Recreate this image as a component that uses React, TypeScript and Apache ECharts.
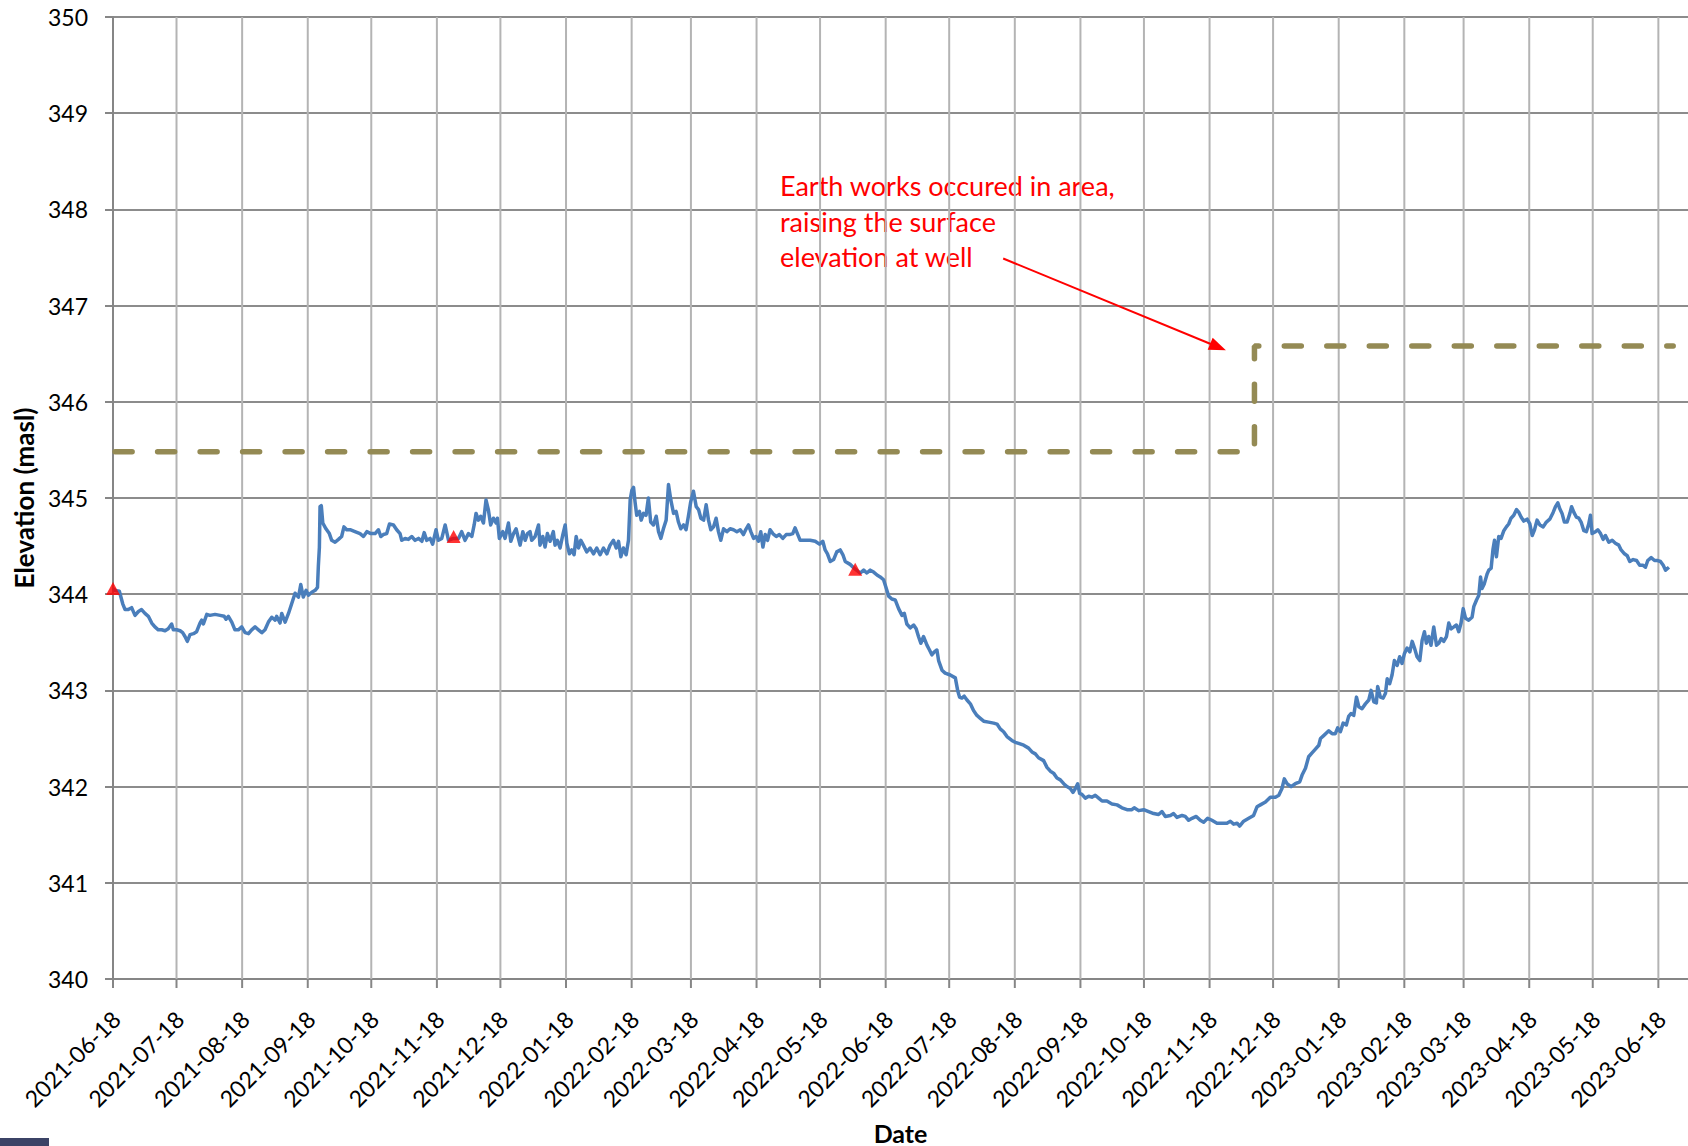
import React, { useEffect, useRef } from "react";
import * as echarts from "echarts";

// ---- data (days since 2021-06-18, groundwater elevation in masl) ----
const START_DATE = "2021-06-18";
const X_MAX_DAYS = 744;

const days: number[] = [
  0, 1, 3, 4.6, 5.7, 7.2, 8.8, 10.4, 12, 13.5, 15.1, 16.7, 18.3, 19.8, 21.4, 23, 24.6, 26.1, 27.7, 28.5,
  30.1, 31.7, 32.9, 34, 35.1, 36.4, 38, 39.5, 41.1, 41.9, 42.7, 44.3, 45.8, 48.2, 50.6, 52.5, 53.4, 54.5, 56.1, 57.6,
  59.2, 60.8, 62.4, 64, 65.5, 67.1, 68.7, 70.3, 71.8, 73.4, 75, 76.6, 77.3, 78.9, 79.7, 81.3, 82.9, 84.4, 86, 87.6,
  88.7, 89.9, 91.2, 92.3, 93.9, 95.5, 96.6, 97.0, 97.5, 97.8, 98.4, 99.1, 100.6, 102.2, 103.3, 104.9, 106.5, 108.0, 109.1, 110.4,
  112.0, 114.3, 116.7, 118.3, 119.9, 121.8, 123.8, 125.4, 126.5, 127.7, 129.3, 130.6, 132.5, 134.0, 135.6, 136.4, 138.0, 139.5, 141.1, 142.7,
  144.3, 145.9, 147.0, 148.2, 149.8, 151.0, 152.6, 153.7, 155.3, 156.9, 158.5, 160.8,
  163.2, 164.7, 166.3, 167.9, 169.5, 170.6, 171.5, 172.6, 173.7, 175.0, 176.2, 177.3, 178.4, 179.7, 181, 181.6, 182.5, 184.1, 185.2, 186.8,
  187.9, 189.2, 190.4, 191.5, 192.3, 193.6, 194.7, 195.8, 197.0, 197.8, 199.4, 201.0, 201.7, 203.0, 204.1, 205.2, 206.5, 208.0, 208.8, 209.9,
  211.2, 212.5, 213.6, 214.4, 215.6, 216.7, 217.8, 218.8, 219.9, 221, 222.2, 223.8, 225.4, 227, 228.5, 230.1, 231.7, 233.3, 234.8, 236.4,
  237.7, 238.8, 239.9, 241.1, 242.4, 243.5, 244.3, 245.1, 245.9, 246.6, 247.4, 248.7, 249.5, 250.6, 251.8, 252.9, 254.0, 255.3, 256.6, 257.7,
  258.8, 260.0, 261.3, 262.4, 263.5, 264.8, 266.0, 267.1, 268.2, 269.5, 270.7, 271.8, 272.9, 274.2, 275.5, 276.6, 277.7, 279.0, 280.2, 281.3,
  282.4, 283.7, 284.9, 286.0, 287.1, 288.4, 290.0, 291.5, 293.1, 294.7, 296.3, 297.8, 299.1, 300.2, 301.3, 302.6, 303.8, 304.9, 306.0, 307.0,
  308.1, 309.2, 310.4, 311.7, 313.3, 314.8, 316.4, 318.0, 319.6, 321.1, 322.2, 323.3, 324.6, 327.0, 329.3, 331.7, 333.7, 335.3, 336.4, 337.5,
  338.8, 340.4, 341.9, 343.5,
  344.8, 345.9, 348.2, 350.6, 353.0, 354.6, 356.1, 357.7, 359.3, 360.9, 362.4, 364.0, 365.3, 366.4, 367.9, 369.5, 371.1, 372.7, 373.8, 375.0,
  376.6, 378.2, 379.4, 380.5, 381.6, 382.9, 384.5, 385.7, 386.8, 388.0, 389.2, 390.0, 391.6, 393.1, 395.5, 397.9, 399.0, 399.9, 401.0, 402.1,
  403.4, 405.0, 406.5, 408.1, 409.7, 411.3, 413.6, 416.0, 417.6, 419.1, 420.7, 422.3, 424.6, 426.2, 427.8, 430.2, 432.5, 434.1, 435.7, 437.2,
  439.6, 441.2, 442.8, 444.3, 445.9, 447.5, 449.1, 450.6, 452.2, 453.5, 454.6, 455.7, 456.6, 457.7, 459.3, 460.9, 462.4, 464.0, 465.6, 467.2,
  469.5, 471.9, 474.3, 476.6, 479.0, 481.3, 482.4, 484.5, 486.9, 489.2, 491.6, 493.9, 495.5, 497.1, 499.5, 501.0, 502.6, 505.0, 506.5, 508.1,
  509.7, 511.7, 513.6, 515.2, 517.1, 519.1, 521.5, 523.9, 526.2, 527.8, 529.4, 531.0, 532.2, 534.1, 536.5, 538.8, 540.4,
  542.0, 544.4, 546.7, 549.1, 550.7, 552.2, 553.3, 554.6, 556.5, 558.5, 560.6, 561.7, 563.3, 564.8, 566.4, 568.0, 569.6, 570.4, 571.9, 574.3,
  575.9, 577.4, 578.5, 579.8, 581.1, 582.6, 583.7, 584.8, 586.1, 587.4, 588.5, 590.0, 591.6, 593.2, 594.3, 595.6, 596.8, 597.4, 598.7, 600.0,
  601.1, 601.9, 603.1, 604.2, 605.3, 606.6, 607.8, 608.9, 610.0, 611.3, 612.6, 613.7, 614.8, 616.0, 617.3, 618.4, 619.5, 620.4, 621.5, 622.6,
  623.9, 625.2, 626.3, 627.4, 628.6, 629.9, 631.0, 632.1, 633.4, 634.6, 635.7, 636.8, 637.8, 638.9, 640.4, 642.0, 642.8, 644.1, 645.2, 646.0,
  646.7, 647.8, 649.1, 649.9, 651.0, 651.9, 652.6, 653.5, 654.6, 655.7, 657.0, 658.2, 659.3, 660.4, 661.7, 663.0, 664.1, 665.2, 666.4, 668.0,
  669.3, 670.4, 671.5, 672.7, 674.0, 675.6, 677.1, 678.7, 680.3, 681.4, 682.5, 683.4, 684.5, 685.6, 686.9, 688.2, 689.0, 690.1, 691.3, 692.4,
  693.5, 694.8, 696.0, 697.1, 697.9, 698.7, 700.3, 701.4, 702.7, 703.9, 705.0, 706.6, 708.2, 709.7, 711.3, 712.4, 714.0, 715.3, 716.5, 718.1,
  719.7, 721.2, 722.8, 723.9, 725.0, 726.6, 728.2, 729.7, 731.0, 732.3, 733.4, 735.0,
];

const levels: number[] = [
  344.06, 344.04, 344.03, 343.90, 343.84, 343.84, 343.86, 343.78, 343.82, 343.84, 343.80, 343.77, 343.70, 343.66, 343.63, 343.63, 343.62, 343.64, 343.69, 343.63,
  343.63, 343.62, 343.60, 343.56, 343.51, 343.58, 343.59, 343.61, 343.70, 343.73, 343.69, 343.79, 343.78, 343.79, 343.78, 343.77, 343.74, 343.77, 343.71, 343.63,
  343.63, 343.66, 343.60, 343.59, 343.63, 343.66, 343.63, 343.60, 343.63, 343.71, 343.76, 343.73, 343.77, 343.70, 343.80, 343.71, 343.80, 343.90, 344.01, 343.97,
  344.10, 343.97, 344.04, 343.99, 344.02, 344.04, 344.07, 344.29, 344.49, 344.91, 344.92, 344.74, 344.68, 344.63, 344.56, 344.54, 344.57, 344.60, 344.70, 344.67,
  344.67, 344.65, 344.63, 344.60, 344.65, 344.63, 344.63, 344.67, 344.60, 344.62, 344.63, 344.73, 344.72, 344.67, 344.63, 344.56, 344.58, 344.57, 344.60, 344.56,
  344.58, 344.55, 344.64, 344.56, 344.58, 344.52, 344.67, 344.56, 344.58, 344.72, 344.56, 344.58,
  344.58, 344.65, 344.56, 344.63, 344.60, 344.72, 344.84, 344.77, 344.81, 344.74, 344.98, 344.88, 344.72, 344.79, 344.74, 344.79, 344.58, 344.65, 344.58, 344.74,
  344.55, 344.63, 344.68, 344.58, 344.51, 344.65, 344.56, 344.63, 344.65, 344.56, 344.60, 344.72, 344.51, 344.60, 344.49, 344.63, 344.55, 344.65, 344.51, 344.56,
  344.48, 344.62, 344.72, 344.53, 344.42, 344.46, 344.41, 344.60, 344.48, 344.56, 344.51, 344.44, 344.48, 344.42, 344.48, 344.41, 344.48, 344.42, 344.51, 344.56,
  344.48, 344.55, 344.39, 344.48, 344.41, 344.56, 344.98, 345.08, 345.11, 344.96, 344.82, 344.86, 344.77, 344.84, 344.82, 345.00, 344.75, 344.72, 344.81, 344.65,
  344.58, 344.68, 344.77, 345.14, 344.98, 344.84, 344.86, 344.75, 344.68, 344.72, 344.67, 344.81, 344.96, 345.07, 344.91, 344.88, 344.79, 344.77, 344.93, 344.77,
  344.67, 344.70, 344.79, 344.65, 344.56, 344.68, 344.65, 344.68, 344.67, 344.65, 344.67, 344.62, 344.68, 344.72, 344.65, 344.58, 344.60, 344.55, 344.65, 344.49,
  344.62, 344.56, 344.67, 344.63, 344.60, 344.62, 344.58, 344.62, 344.62, 344.63, 344.69, 344.63, 344.56, 344.56, 344.56, 344.55, 344.52, 344.55, 344.46, 344.42,
  344.34, 344.36, 344.44, 344.46,
  344.41, 344.34, 344.31, 344.26, 344.22, 344.25, 344.22, 344.25, 344.23, 344.20, 344.18, 344.15, 344.06, 343.98, 343.95, 343.94, 343.85, 343.78, 343.80, 343.69,
  343.65, 343.68, 343.64, 343.56, 343.49, 343.56, 343.47, 343.42, 343.37, 343.40, 343.42, 343.31, 343.21, 343.18, 343.16, 343.13, 343.00, 342.93, 342.92, 342.94,
  342.90, 342.86, 342.79, 342.74, 342.71, 342.68, 342.67, 342.66, 342.65, 342.60, 342.57, 342.52, 342.48, 342.46, 342.45, 342.43, 342.40, 342.36, 342.34, 342.30,
  342.27, 342.20, 342.16, 342.14, 342.09, 342.07, 342.03, 342.00, 341.98, 341.94, 341.98, 342.03, 341.93, 341.92, 341.88, 341.90, 341.89, 341.91, 341.88, 341.85,
  341.85, 341.82, 341.81, 341.78, 341.76, 341.76, 341.78, 341.75, 341.76, 341.74, 341.72, 341.71, 341.74, 341.69, 341.70, 341.72, 341.68, 341.70, 341.69, 341.65,
  341.67, 341.69, 341.65, 341.63, 341.67, 341.65, 341.62, 341.62, 341.62, 341.64, 341.61, 341.62, 341.59, 341.64, 341.67, 341.70, 341.79,
  341.81, 341.84, 341.89, 341.89, 341.91, 341.98, 342.08, 342.03, 342.00, 342.03, 342.05, 342.12, 342.19, 342.31, 342.35, 342.39, 342.43, 342.50, 342.53, 342.58,
  342.55, 342.55, 342.61, 342.57, 342.66, 342.64, 342.73, 342.76, 342.74, 342.93, 342.83, 342.81, 342.86, 342.90, 343.00, 342.88, 342.87, 343.04, 342.93, 342.92,
  342.97, 343.12, 343.07, 343.16, 343.31, 343.26, 343.35, 343.28, 343.38, 343.44, 343.40, 343.51, 343.44, 343.35, 343.31, 343.52, 343.61, 343.49, 343.56, 343.47,
  343.66, 343.47, 343.49, 343.54, 343.51, 343.56, 343.70, 343.64, 343.66, 343.68, 343.61, 343.70, 343.85, 343.75, 343.73, 343.76, 343.87, 343.94, 343.99, 344.18,
  344.06, 344.11, 344.21, 344.25, 344.27, 344.47, 344.56, 344.39, 344.60, 344.58, 344.66, 344.70, 344.73, 344.79, 344.82, 344.88, 344.85, 344.80, 344.76, 344.78,
  344.73, 344.61, 344.67, 344.77, 344.72, 344.70, 344.75, 344.78, 344.85, 344.91, 344.95, 344.89, 344.84, 344.75, 344.75, 344.84, 344.91, 344.85, 344.80, 344.79,
  344.75, 344.66, 344.65, 344.73, 344.82, 344.63, 344.65, 344.67, 344.63, 344.57, 344.61, 344.54, 344.56, 344.53, 344.51, 344.46, 344.42, 344.40, 344.34, 344.36,
  344.35, 344.30, 344.30, 344.28, 344.35, 344.38, 344.35, 344.35, 344.34, 344.30, 344.25, 344.28,
];

// manual measurements (red triangles)
const manualDays = [0, 160.9, 350.6];
const manualLevels = [344.06, 344.6, 344.26];

// ground surface elevation (dashed)
const surfaceDays = [1, 539.2, 539.2, 737];
const surfaceLevels = [345.48, 345.48, 346.58, 346.58];

// x tick labels
const tickLabels = [
  "2021-06-18", "2021-07-18", "2021-08-18", "2021-09-18", "2021-10-18", "2021-11-18", "2021-12-18",
  "2022-01-18", "2022-02-18", "2022-03-18", "2022-04-18", "2022-05-18", "2022-06-18", "2022-07-18",
  "2022-08-18", "2022-09-18", "2022-10-18", "2022-11-18", "2022-12-18", "2023-01-18", "2023-02-18",
  "2023-03-18", "2023-04-18", "2023-05-18", "2023-06-18",
];

// annotation arrow (days, masl)
const arrowStart = [420.5, 347.49];
const arrowEnd = [522.0, 346.57];
const annotationLines = ["Earth works occured in area,", "raising the surface", "elevation at well"];

const Y_MIN = 340;
const Y_MAX = 350;
const Y_INTERVAL = 1;

const DAY_MS = 86400000;
const parseDate = (s: string) => {
  const [y, m, d] = s.split("-").map(Number);
  return Date.UTC(y, m - 1, d);
};
const T0 = parseDate(START_DATE);
const toTime = (d: number) => T0 + d * DAY_MS;

const FONT = "Lato, 'Open Sans', sans-serif";

export default function App() {
  const ref = useRef<HTMLDivElement>(null);
  useEffect(() => {
    if (!ref.current) return;
    const chart = echarts.init(ref.current, undefined, { renderer: "svg" });
    const xMin = T0;
    const xMax = toTime(X_MAX_DAYS);
    const option: any = {
      animation: false,
      backgroundColor: "#ffffff",
      grid: { left: 113, top: 17, right: 0, bottom: 167, containLabel: false, outerBoundsMode: "none" },
      xAxis: {
        type: "time",
        min: xMin,
        max: xMax,
        axisLine: { show: true, lineStyle: { color: "#868686", width: 2 } },
        axisTick: { show: false },
        axisLabel: { show: false },
        splitLine: { show: false },
        name: "Date",
        nameLocation: "middle",
        nameGap: 141,
        nameTextStyle: { fontFamily: FONT, fontWeight: "bold", fontSize: 25, color: "#000" },
      },
      yAxis: {
        type: "value",
        min: Y_MIN,
        max: Y_MAX,
        interval: Y_INTERVAL,
        axisLine: { show: true, lineStyle: { color: "#868686", width: 2 } },
        axisTick: { show: true, length: 8, lineStyle: { color: "#868686", width: 2 } },
        axisLabel: { fontFamily: FONT, fontSize: 23, color: "#000", margin: 25 },
        splitLine: { show: true, lineStyle: { color: "#8c8c8c", width: 2 } },
        name: "Elevation (masl)",
        nameLocation: "middle",
        nameRotate: 90,
        nameGap: 75,
        nameTextStyle: { fontFamily: FONT, fontWeight: "bold", fontSize: 26, color: "#000" },
      },
      series: [
        {
          type: "custom",
          name: "ticks",
          clip: false,
          silent: true,
          z: 1,
          data: tickLabels.map((s) => [parseDate(s), s]),
          renderItem: (params: any, api: any) => {
            const t = api.value(0);
            const top = api.coord([t, Y_MAX]);
            const bot = api.coord([t, Y_MIN]);
            const label = tickLabels[params.dataIndex];
            const children: any[] = [];
            if (t > xMin) {
              children.push({
                type: "line",
                shape: { x1: bot[0], y1: top[1], x2: bot[0], y2: bot[1] },
                style: { stroke: "#b4b4b4", lineWidth: 2 },
              });
            }
            children.push({
              type: "line",
              shape: { x1: bot[0], y1: bot[1], x2: bot[0], y2: bot[1] + 9 },
              style: { stroke: "#868686", lineWidth: 2 },
            });
            children.push({
              type: "text",
              x: bot[0] + 3,
              y: bot[1] + 36,
              rotation: Math.PI / 4,
              style: {
                text: label,
                x: 0,
                y: 0,
                align: "right",
                verticalAlign: "middle",
                textAlign: "right",
                textVerticalAlign: "middle",
                fontSize: 23,
                fontFamily: FONT,
                fill: "#000",
              },
            });
            return { type: "group", children };
          },
        },
        {
          type: "line",
          name: "Ground surface",
          z: 2,
          silent: true,
          showSymbol: false,
          data: surfaceDays.map((d, i) => [toTime(d), surfaceLevels[i]]),
          lineStyle: { color: "#948a54", width: 5.5, type: [17, 25.5], cap: "round" },
          markLine: {
            silent: true,
            symbol: ["none", "triangle"],
            symbolSize: [13, 17],
            label: { show: false },
            lineStyle: { color: "#ff0000", width: 2, type: "solid" },
            data: [
              [
                { coord: [toTime(arrowStart[0]), arrowStart[1]], symbol: "none" },
                { coord: [toTime(arrowEnd[0]), arrowEnd[1]], symbol: "triangle" },
              ],
            ],
          },
        },
        {
          type: "line",
          name: "Water level",
          z: 3,
          silent: true,
          showSymbol: false,
          data: days.map((d, i) => [toTime(d), levels[i]]),
          lineStyle: { color: "#4a7ebb", width: 3.5, join: "round" },
        },
        {
          type: "scatter",
          name: "Manual",
          z: 4,
          silent: true,
          symbol: "triangle",
          symbolSize: [14, 13],
          itemStyle: { color: "#ff0000" },
          data: manualDays.map((d, i) => [toTime(d), manualLevels[i]]),
        },
      ],
      graphic: [
        {
          type: "text",
          left: 780,
          top: 168,
          silent: true,
          style: {
            text: annotationLines.join("\n"),
            fontFamily: FONT,
            fontSize: 27,
            lineHeight: 35.5,
            fill: "#ff0000",
          },
        },
        {
          type: "rect",
          left: 0,
          top: 1138,
          silent: true,
          shape: { width: 49, height: 8 },
          style: { fill: "#3b4366" },
        },
      ],
    };
    chart.setOption(option);
    return () => chart.dispose();
  }, []);
  return (
    <div
      ref={ref}
      style={{ position: "fixed", left: 0, top: 0, width: 1688, height: 1146, background: "#fff" }}
    />
  );
}
